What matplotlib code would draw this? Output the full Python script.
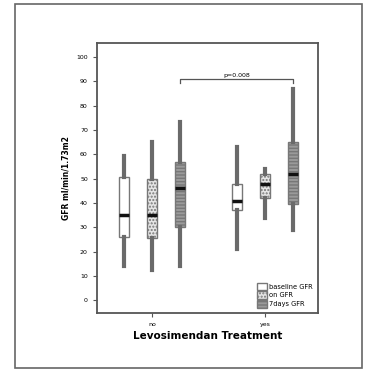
import numpy as np
import matplotlib.pyplot as plt
from matplotlib.patches import Rectangle

# data
groups = ['no', 'yes']
series = ['baseline GFR', 'on GFR', '7days GFR']

whislo = [[14, 12.5, 14], [21, 34, 29]]
q1 = [[26, 25.5, 30], [37, 42, 39.5]]
med = [[35, 35, 46], [41, 48, 52]]
q3 = [[50.5, 50, 57], [48, 52, 65]]
whishi = [[59.5, 65, 73.5], [63, 54, 87]]

p_text = 'p=0.008'

face = ['white', '#e6e6e6', '#9a9a9a']
hatch = [None, '.....', '-----']

fig = plt.figure(figsize=(3.67, 3.71), dpi=100)
fig.patches.append(Rectangle((0.041, 0.008), 0.945, 0.981, transform=fig.transFigure,
                             fill=False, edgecolor='#666666', linewidth=1.2))

ax = fig.add_axes([0.264, 0.156, 0.602, 0.728])

offsets = [-0.25, 0, 0.25]
for g in range(len(groups)):
    for s in range(len(series)):
        st = [dict(med=med[g][s], q1=q1[g][s], q3=q3[g][s],
                   whislo=whislo[g][s], whishi=whishi[g][s], fliers=[])]
        b = ax.bxp(st, positions=[g + offsets[s]], widths=0.09, patch_artist=True,
                   showcaps=False,
                   boxprops=dict(facecolor=face[s], edgecolor='#777777', linewidth=1.0),
                   whiskerprops=dict(color='#6a6a6a', linewidth=3.0),
                   medianprops=dict(color='#111111', linewidth=2.5))
        if hatch[s]:
            b['boxes'][0].set_hatch(hatch[s])

# bracket
y_br = 91
ax.plot([0.25, 0.25, 1.25, 1.25], [y_br - 1.5, y_br, y_br, y_br - 1.5],
        color='#555555', linewidth=0.9)
ax.text(0.75, y_br + 0.5, p_text, ha='center', va='bottom', fontsize=4.5)

ax.set_xlim(-0.49, 1.47)
ax.set_ylim(-5.3, 105.8)
ax.set_yticks(np.arange(0, 101, 10))
ax.set_xticks([0, 1])
ax.set_xticklabels(groups)
ax.tick_params(labelsize=4.5, length=3, width=0.8, color='#555555')

for sp in ax.spines.values():
    sp.set_color('#555555')
    sp.set_linewidth(1.3)

ax.set_ylabel('GFR ml/min/1.73m2', fontsize=5.5, fontweight='bold', labelpad=4)
ax.set_xlabel('Levosimendan Treatment', fontsize=7.5, fontweight='bold', labelpad=3)

handles = [Rectangle((0, 0), 1, 1, facecolor=face[i], edgecolor='#777777', hatch=hatch[i])
           for i in range(3)]
ax.legend(handles, series, loc='lower right', fontsize=4.8, frameon=False,
          handlelength=1.6, handleheight=1.4, handletextpad=0.2, labelspacing=0.15,
          borderaxespad=0.4)

fig.savefig('out.png', dpi=100)
